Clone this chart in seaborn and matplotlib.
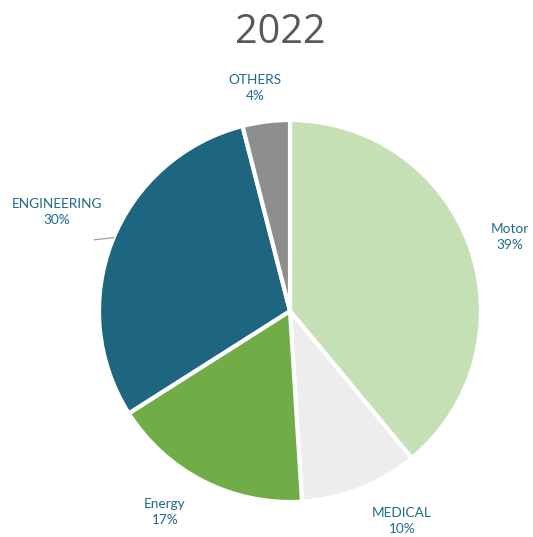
import matplotlib
matplotlib.use("Agg")
import matplotlib.pyplot as plt
import seaborn as sns
import numpy as np

sns.set_theme(style="white")
plt.rcParams['font.family'] = ['Lato', 'DejaVu Sans']

categories = ["Motor", "MEDICAL", "Energy", "ENGINEERING", "OTHERS"]
values = [39, 10, 17, 30, 4]
colors = ["#C5E0B4", "#EDEDED", "#70AD47", "#1E6680", "#8E8E8E"]
title = "2022"

fig = plt.figure(figsize=(5.33, 5.37), dpi=100)
ax = fig.add_axes([99/533, 35/537, 382/533, 382/537])
wedges, _ = ax.pie(values, colors=colors, startangle=90, counterclock=False,
                   wedgeprops=dict(edgecolor="white", linewidth=3), radius=1.0)
ax.set_xlim(-1, 1)
ax.set_ylim(-1, 1)
ax.set_aspect("equal")
ax.axis("off")

# label placement: (radius, angle tweak in degrees) relative to wedge middle
label_pos = {"Motor": (1.215, -1.2), "MEDICAL": (1.245, 6.5), "Energy": (1.24, -4.9),
             "ENGINEERING": (1.325, -1.4), "OTHERS": (1.182, 1.7)}
for w, cat, v in zip(wedges, categories, values):
    r, dang = label_pos[cat]
    ang = np.deg2rad((w.theta1 + w.theta2) / 2 + dang)
    x, y = r * np.cos(ang), r * np.sin(ang)
    ax.text(x, y, f"{cat}\n{v}%", ha="center", va="center", color="#1F6A8C",
            fontsize=9.8, linespacing=1.45, clip_on=False)
    if cat == "ENGINEERING":
        mid = (w.theta1 + w.theta2) / 2
        a1, a2 = np.deg2rad(mid - 1.0), np.deg2rad(mid + 1.6)
        ax.plot([1.0 * np.cos(a1), 1.09 * np.cos(a2)], [1.0 * np.sin(a1), 1.09 * np.sin(a2)],
                color="#A6A6A6", lw=1.0, clip_on=False)

fig.text(280/533, 1 - 33/537, title, ha="center", va="center", fontsize=28.5,
         color="#595959", family=["Open Sans", "DejaVu Sans"])

fig.savefig("out.png", dpi=100)
